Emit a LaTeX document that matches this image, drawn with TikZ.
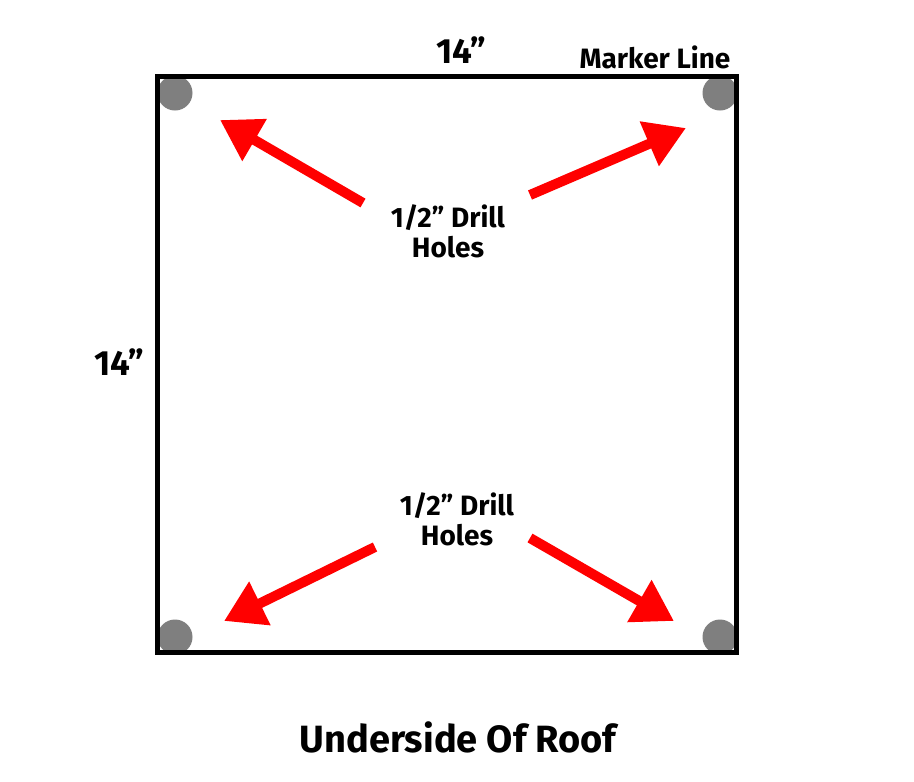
\documentclass[tikz,border=0pt]{standalone}
\usepackage{fontspec}
\setmainfont{Fira Sans}
\usetikzlibrary{arrows.meta}
\definecolor{holegray}{HTML}{7F7F7F}
\definecolor{arrowred}{HTML}{FF0000}
\begin{document}
\begin{tikzpicture}[x=1pt,y=-1pt,
  hole/.style={circle,fill=holegray,minimum size=35pt,inner sep=0pt},
  redarrow/.style={draw=arrowred,line width=10pt,-{Triangle[length=40pt,width=46pt]},arrowred},
  lbl/.style={font=\bfseries,inner sep=0pt,align=center}]
\useasboundingbox (0,0) rectangle (914,782);
\fill[white] (0,0) rectangle (914,782);
\node[hole] (h1) at (175,93) {};
\node[hole] (h2) at (720,93) {};
\node[hole] (h3) at (175,637) {};
\node[hole] (h4) at (720,637) {};
\draw[line width=5pt] (157,76) rectangle (736,652);
\node[lbl,font=\bfseries\fontsize{35}{40}\selectfont] (top) at (461,50) {14”};
\node[lbl,font=\bfseries\fontsize{28}{32}\selectfont] (marker) at (655,57) {Marker Line};
\node[lbl,font=\bfseries\fontsize{35}{40}\selectfont] (left) at (119,362) {14”};
\node[lbl,font=\bfseries\fontsize{28}{30}\selectfont] (d1) at (448,231) {1/2” Drill\\Holes};
\node[lbl,font=\bfseries\fontsize{28}{30}\selectfont] (d2) at (457,519) {1/2” Drill\\Holes};
\node[lbl,font=\bfseries\fontsize{38}{44}\selectfont] (title) at (458,737) {Underside Of Roof};
\coordinate (t1) at (363,203); \coordinate (p1) at (220,120);
\coordinate (t2) at (530,195); \coordinate (p2) at (686,128);
\coordinate (t3) at (375,547); \coordinate (p3) at (224,621);
\coordinate (t4) at (530,538); \coordinate (p4) at (674,621);
\draw[redarrow] (t1) -- (p1);
\draw[redarrow] (t2) -- (p2);
\draw[redarrow] (t3) -- (p3);
\draw[redarrow] (t4) -- (p4);
\end{tikzpicture}
\end{document}
